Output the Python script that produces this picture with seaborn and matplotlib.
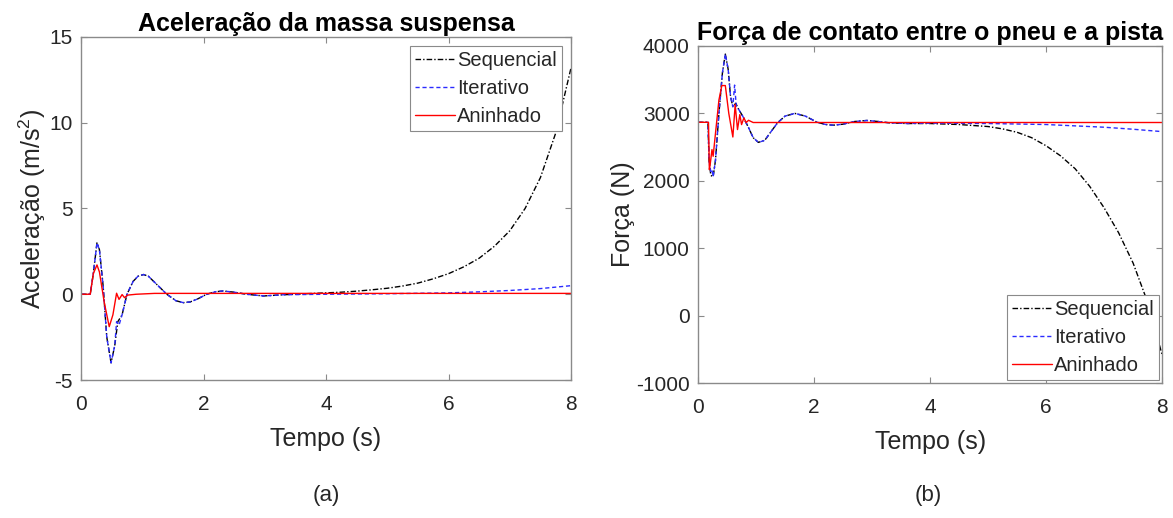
import pandas as pd
import seaborn as sns
import matplotlib.pyplot as plt

# --- data ---
methods = ["Sequencial", "Iterativo", "Aninhado"]

# (a) acceleration of the sprung mass
acc_seq_t = [0, 0.15, 0.2, 0.26, 0.3, 0.36, 0.42, 0.49, 0.55, 0.6, 0.67, 0.75, 0.85,
             0.93, 1.02, 1.1, 1.2, 1.4, 1.55, 1.67, 1.78, 1.9, 2.05, 2.2, 2.32, 2.5,
             2.7, 2.98, 3.3, 3.6, 4.0, 4.25, 4.5, 4.75, 5.0, 5.25, 5.5, 5.75, 6.0,
             6.25, 6.5, 6.75, 7.0, 7.25, 7.5, 7.75, 8.0]
acc_seq_v = [0, 0, 1.2, 3.0, 2.6, 0.5, -2.5, -4.0, -3.0, -1.6, -1.2, 0.0, 0.75,
             1.05, 1.15, 1.05, 0.7, 0.0, -0.38, -0.49, -0.45, -0.28, 0.0, 0.15, 0.19, 0.12,
             0.0, -0.1, -0.03, 0.02, 0.08, 0.12, 0.18, 0.26, 0.35, 0.48, 0.65, 0.9, 1.2,
             1.6, 2.1, 2.8, 3.7, 5.0, 6.8, 9.4, 13.2]
acc_itr_t = [0, 0.15, 0.2, 0.26, 0.3, 0.36, 0.42, 0.49, 0.55, 0.58, 0.62, 0.67, 0.75, 0.85,
             0.93, 1.02, 1.1, 1.2, 1.4, 1.55, 1.67, 1.78, 1.9, 2.05, 2.2, 2.32, 2.5, 2.7,
             2.98, 3.3, 4.0, 5.0, 6.0, 6.5, 7.0, 7.5, 8.0]
acc_itr_v = [0, 0, 1.2, 3.0, 2.6, 0.5, -2.5, -4.0, -3.0, -1.6, -1.8, -1.2, 0.0, 0.75,
             1.05, 1.15, 1.05, 0.7, 0.0, -0.38, -0.49, -0.45, -0.28, 0.0, 0.15, 0.19, 0.12, 0.0,
             -0.1, -0.03, 0.0, 0.03, 0.08, 0.14, 0.22, 0.33, 0.5]
acc_ani_t = [0, 0.15, 0.2, 0.26, 0.3, 0.38, 0.46, 0.52, 0.58, 0.62, 0.67, 0.71, 0.76,
             0.9, 1.2, 8.0]
acc_ani_v = [0, 0, 1.2, 1.71, 1.3, -0.5, -1.89, -1.2, 0.06, -0.3, -0.02, -0.2, -0.05,
             0.0, 0.05, 0.05]

# (b) tyre-road contact force
frc_seq_t = [0, 0.17, 0.19, 0.22, 0.26, 0.3, 0.36, 0.42, 0.47, 0.52, 0.56, 0.6, 0.65,
             0.7, 0.77, 0.87, 0.95, 1.04, 1.15, 1.25, 1.37, 1.5, 1.67, 1.85, 2.05, 2.2,
             2.33, 2.5, 2.7, 2.91, 3.1, 3.3, 3.6, 4.0, 4.5, 5.0, 5.25, 5.5, 5.75, 6.0,
             6.25, 6.5, 6.75, 7.0, 7.25, 7.5, 7.75, 8.0]
frc_seq_v = [2868, 2868, 2300, 2080, 2060, 2300, 3000, 3600, 3880, 3650, 3250, 3100, 3150,
             3060, 2960, 2790, 2640, 2570, 2600, 2720, 2860, 2960, 3000, 2960, 2870, 2835,
             2825, 2840, 2880, 2895, 2880, 2860, 2850, 2850, 2835, 2805, 2770, 2720, 2640,
             2520, 2370, 2180, 1920, 1600, 1230, 780, 200, -580]
frc_itr_t = [0, 0.17, 0.19, 0.22, 0.24, 0.26, 0.3, 0.36, 0.42, 0.47, 0.52, 0.56, 0.6,
             0.63, 0.66, 0.7, 0.77, 0.87, 0.95, 1.04, 1.15, 1.25, 1.37, 1.5, 1.67, 1.85,
             2.05, 2.2, 2.33, 2.5, 2.7, 2.91, 3.1, 3.3, 3.6, 4.0, 5.0, 6.0, 6.5, 7.0,
             7.5, 8.0]
frc_itr_v = [2868, 2868, 2300, 2130, 2160, 2060, 2300, 3000, 3600, 3880, 3650, 3250, 3100,
             3420, 3100, 3060, 2960, 2790, 2640, 2570, 2600, 2720, 2860, 2960, 3000, 2960,
             2870, 2835, 2825, 2840, 2880, 2895, 2880, 2860, 2850, 2855, 2850, 2835, 2815,
             2795, 2765, 2730]
frc_ani_t = [0, 0.18, 0.195, 0.21, 0.24, 0.26, 0.3, 0.36, 0.41, 0.47, 0.53, 0.6, 0.64,
             0.68, 0.72, 0.75, 0.79, 0.83, 0.87, 0.95, 8.0]
frc_ani_v = [2868, 2868, 2166, 2250, 2463, 2364, 2700, 3200, 3413, 3413, 3000, 2650, 3131,
             2760, 2982, 2834, 2933, 2864, 2898, 2865, 2865]

x_ticks = [0, 2, 4, 6, 8]
acc_ticks = [-5, 0, 5, 10, 15]
frc_ticks = [-1000, 0, 1000, 2000, 3000, 4000]


def long_frame(series):
    rows = []
    for name, ts, vs in series:
        for t, v in zip(ts, vs):
            rows.append({"Tempo": t, "Valor": v, "Método": name})
    return pd.DataFrame(rows)


df_acc = long_frame([("Sequencial", acc_seq_t, acc_seq_v),
                     ("Iterativo", acc_itr_t, acc_itr_v),
                     ("Aninhado", acc_ani_t, acc_ani_v)])
df_frc = long_frame([("Sequencial", frc_seq_t, frc_seq_v),
                     ("Iterativo", frc_itr_t, frc_itr_v),
                     ("Aninhado", frc_ani_t, frc_ani_v)])

# --- style ---
sns.set_theme(style="white")
plt.rcParams.update({
    "font.family": ["Liberation Sans", "DejaVu Sans"],
    "mathtext.fontset": "custom",
    "mathtext.rm": "Liberation Sans",
    "mathtext.it": "Liberation Sans:italic",
    "axes.unicode_minus": False,
    "axes.edgecolor": "#8a8a8a",
    "axes.linewidth": 1.0,
    "xtick.color": "#8a8a8a",
    "ytick.color": "#8a8a8a",
    "xtick.labelcolor": "#262626",
    "ytick.labelcolor": "#262626",
    "xtick.labelsize": 15,
    "ytick.labelsize": 15,
})

palette = {"Sequencial": "#000000", "Iterativo": "#2b2bff", "Aninhado": "#ff0000"}
dashes = {"Sequencial": (4, 1.5, 1, 1.5), "Iterativo": (3, 2), "Aninhado": ""}

fig = plt.figure(figsize=(11.73, 5.18), dpi=100)
ax_a = fig.add_axes([0.0691, 0.2664, 0.4177, 0.6622])
ax_b = fig.add_axes([0.5951, 0.2606, 0.3956, 0.6506])

panels = [
    (ax_a, df_acc, "Aceleração da massa suspensa", "Aceleração (m/s$^{2}$)",
     (-5, 15), acc_ticks, "upper right", 0.45),
    (ax_b, df_frc, "Força de contato entre o pneu e a pista", "Força (N)",
     (-1000, 4000), frc_ticks, "lower right", 0.15),
]

for ax, df, title, ylabel, ylim, yticks, loc, lpad in panels:
    sns.lineplot(data=df, x="Tempo", y="Valor", hue="Método", style="Método",
                 hue_order=methods, style_order=methods, palette=palette,
                 dashes=dashes, estimator=None, sort=False, linewidth=1.0, ax=ax)
    ax.set_xlim(0, 8)
    ax.set_ylim(*ylim)
    ax.set_xticks(x_ticks)
    ax.set_yticks(yticks)
    ax.tick_params(direction="in", length=4, width=0.8, top=True, right=True,
                   bottom=True, left=True)
    ax.tick_params(axis="x", pad=11)
    ax.tick_params(axis="y", pad=6)
    ax.set_title(title, fontsize=18, fontweight="bold", color="black", pad=4)
    ax.set_xlabel("Tempo (s)", fontsize=18, color="#262626", labelpad=9)
    ax.set_ylabel(ylabel, fontsize=18, color="#262626", labelpad=1)

    old = ax.get_legend()
    handles = old.legend_handles
    labels = [t.get_text() for t in old.get_texts()]
    old.remove()
    leg = ax.legend(handles, labels, loc=loc, fontsize=14.5, frameon=True,
                    fancybox=False, framealpha=1, edgecolor="#8a8a8a",
                    handlelength=2.0, handletextpad=0.1, labelspacing=0.45,
                    borderpad=0.25, borderaxespad=lpad)
    leg.get_frame().set_linewidth(0.8)

fig.text(0.278, 0.044, "(a)", fontsize=16, ha="center", va="center", color="#262626")
fig.text(0.791, 0.044, "(b)", fontsize=16, ha="center", va="center", color="#262626")

fig.savefig("out.png", dpi=100)
